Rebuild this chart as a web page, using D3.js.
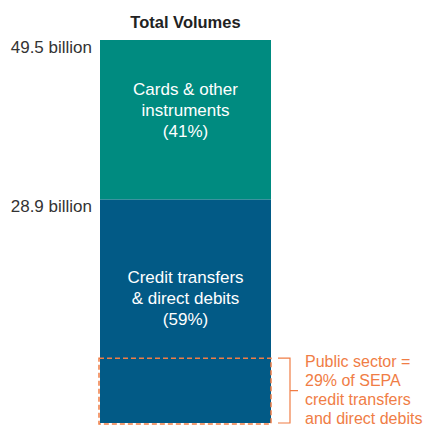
<!DOCTYPE html>
<html><head><meta charset="utf-8">
<script src="https://cdn.jsdelivr.net/npm/d3@7"></script>
<style>body{margin:0;background:#fff}svg{display:block}text{font-family:"Liberation Sans",Arial,sans-serif}</style>
</head><body>
<script>
const segments = ["Credit transfers & direct debits", "Cards & other instruments"];
const segmentValues = [28.9, 20.6]; // billion
const segmentLabels = [["Credit transfers", "& direct debits", "(59%)"], ["Cards & other", "instruments", "(41%)"]];
const segmentColors = ["#025a86", "#008b80"];
const tickValues = [28.9, 49.5];
const tickLabels = ["28.9 billion", "49.5 billion"];
const publicSectorShare = 0.29;
const noteLines = ["Public sector =", "29% of SEPA", "credit transfers", "and direct debits"];

const W = 427, H = 427;
const svg = d3.select("body").append("svg").attr("width", W).attr("height", H);
const total = d3.sum(segmentValues);
const y = d3.scaleLinear().domain([0, total]).range([423, 40]);
const x = d3.scaleBand().domain(["Total Volumes"]).range([100, 271]).padding(0);

svg.append("text").attr("x", x("Total Volumes") + x.bandwidth()/2).attr("y", 28)
  .attr("text-anchor", "middle").attr("font-weight", "bold").attr("font-size", 16.5).attr("fill", "#222")
  .text("Total Volumes");

let cum = 0;
const stacks = segmentValues.map((v, i) => { const s = {i, y0: cum, y1: cum + v}; cum += v; return s; });

svg.selectAll("rect.seg").data(stacks).enter().append("rect")
  .attr("x", x("Total Volumes")).attr("width", x.bandwidth())
  .attr("y", d => y(d.y1)).attr("height", d => y(d.y0) - y(d.y1))
  .attr("fill", d => segmentColors[d.i]);

const labelOffsets = [[279, 300, 321], [91, 112, 133]];
stacks.forEach(d => {
  segmentLabels[d.i].forEach((t, j) => {
    svg.append("text").attr("x", x("Total Volumes") + x.bandwidth()/2).attr("y", labelOffsets[d.i][j])
      .attr("text-anchor", "middle").attr("dominant-baseline", "middle").attr("font-size", 17).attr("fill", "#fff").text(t);
  });
});

const axis = d3.axisLeft(y).tickValues(tickValues).tickFormat((d, i) => tickLabels[i]).tickSize(0).tickPadding(8);
const g = svg.append("g").attr("transform", "translate(100,7)").call(axis);
g.select(".domain").remove();
g.selectAll("text").attr("font-size", 17).attr("fill", "#333").style("font-family", '"Liberation Sans",Arial,sans-serif');

// Public sector dashed box
const psTop = y(segmentValues[0] * publicSectorShare);
const orange = "#f07d45";
svg.append("rect").attr("x", 99).attr("y", psTop).attr("width", 172).attr("height", 424 - psTop)
  .attr("fill", "none").attr("stroke", orange).attr("stroke-width", 1.5).attr("stroke-dasharray", "5,3");

const bx0 = 278, bx1 = 290;
svg.append("path").attr("d", `M${bx0},${psTop}H${bx1}V${y(0)}H${bx0}M${bx1},${(psTop + y(0))/2}H${bx1+8}`)
  .attr("fill", "none").attr("stroke", orange).attr("stroke-width", 1.2);

noteLines.forEach((t, j) => {
  svg.append("text").attr("x", 305).attr("y", 363 + j * 19).attr("dominant-baseline", "middle")
    .attr("font-size", 16).attr("fill", orange).text(t);
});
</script>
</body></html>
